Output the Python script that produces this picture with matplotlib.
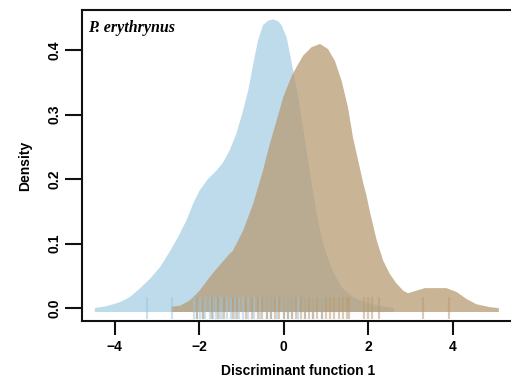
import matplotlib
matplotlib.use("Agg")
import matplotlib.pyplot as plt

# Density curve of group 1 (light blue)
blue_x = [-4.48, -4.20, -3.89, -3.65, -3.42, -3.18, -2.94, -2.71, -2.51, -2.31, -2.15, -2.00,
          -1.80, -1.60, -1.45, -1.29, -1.13, -0.97, -0.85, -0.73, -0.62, -0.50, -0.38, -0.26,
          -0.14, -0.06, 0.06, 0.17, 0.29, 0.41, 0.53, 0.65, 0.77, 0.92, 1.12, 1.36, 1.63,
          1.95, 2.30, 2.60]
blue_y = [0.001, 0.004, 0.010, 0.018, 0.031, 0.046, 0.064, 0.088, 0.111, 0.137, 0.163, 0.183,
          0.201, 0.214, 0.226, 0.245, 0.271, 0.307, 0.338, 0.379, 0.415, 0.439, 0.446, 0.448,
          0.445, 0.439, 0.420, 0.384, 0.343, 0.297, 0.245, 0.194, 0.147, 0.101, 0.062, 0.033,
          0.018, 0.009, 0.004, 0.001]

# Density curve of group 2 (tan)
tan_x = [-2.67, -2.45, -2.23, -2.00, -1.76, -1.52, -1.29, -1.21, -0.97, -0.73, -0.50, -0.34,
         -0.18, -0.02, 0.17, 0.29, 0.45, 0.65, 0.85, 1.04, 1.20, 1.36, 1.51, 1.63, 1.75, 1.87,
         1.95, 2.03, 2.19, 2.34, 2.50, 2.66, 2.82, 2.93, 3.13, 3.33, 3.61, 3.84, 4.08, 4.32,
         4.55, 4.87, 5.08]
tan_y = [0.003, 0.005, 0.013, 0.028, 0.049, 0.068, 0.085, 0.090, 0.121, 0.163, 0.214, 0.255,
         0.291, 0.328, 0.359, 0.374, 0.392, 0.405, 0.410, 0.402, 0.384, 0.353, 0.312, 0.265,
         0.230, 0.195, 0.175, 0.150, 0.106, 0.075, 0.054, 0.039, 0.028, 0.024, 0.028, 0.032,
         0.032, 0.032, 0.026, 0.015, 0.007, 0.0025, 0.001]

# Rug observations
blue_rug = [-3.24, -2.64, -2.12, -2.05, -1.98, -1.9, -1.85, -1.75, -1.68, -1.6, -1.5, -1.45,
            -1.35, -1.25, -1.15, -1.05, -0.95, -0.85, -0.7, -0.55, -0.4, -0.3, -0.15, 0.0, 0.1,
            0.2, 0.35, 0.5, 0.7, 0.9]
tan_rug = [-2.05, -1.9, -1.7, -1.55, -1.4, -1.2, -1.1, -0.9, -0.75, -0.6, -0.5, -0.4, -0.3,
           -0.2, -0.1, 0.0, 0.1, 0.2, 0.3, 0.4, 0.5, 0.6, 0.7, 0.8, 0.9, 1.0, 1.1, 1.2, 1.3,
           1.4, 1.5, 1.55, 1.9, 2.0, 2.1, 2.25, 3.3, 3.92]

xticks = [-4, -2, 0, 2, 4]
xticklabels = ["\u22124", "\u22122", "0", "2", "4"]
yticks = [0.0, 0.1, 0.2, 0.3, 0.4]
yticklabels = ["0.0", "0.1", "0.2", "0.3", "0.4"]

W, H = 511, 387
fig = plt.figure(figsize=(W / 100, H / 100), dpi=100)
ax = fig.add_axes([82 / W, (H - 321) / H, (514 - 82) / W, (321 - 10) / H])

blue_c = "#bddbea"
tan_c = (183 / 255, 155 / 255, 115 / 255)
base = -0.005

ax.fill_between(blue_x, base, blue_y, color=blue_c, lw=0, zorder=1)
ax.fill_between(tan_x, base, tan_y, color=tan_c, alpha=0.75, lw=0, zorder=2)

ax.vlines(blue_rug, -0.017, 0.017, colors="#9cc6de", alpha=0.5, lw=1.6, zorder=3)
ax.vlines(tan_rug, -0.017, 0.017, colors=tan_c, alpha=0.5, lw=1.6, zorder=3)

ax.set_xlim(-4.77, 5.45)
ax.set_ylim(-0.0197, 0.4618)

ax.set_xticks(xticks)
ax.set_xticklabels(xticklabels)
ax.set_yticks(yticks)
ax.set_yticklabels(yticklabels, rotation=90, va="center")

for s in ax.spines.values():
    s.set_linewidth(1.5)
    s.set_color("#111111")
ax.tick_params(axis="both", width=1.5, color="#111111", labelsize=10)
ax.tick_params(axis="x", length=10, pad=4)
ax.tick_params(axis="y", length=12, pad=3)
for lab in ax.get_xticklabels() + ax.get_yticklabels():
    lab.set_family("Liberation Sans")
    lab.set_fontweight("bold")

ax.set_xlabel("Discriminant function 1", fontsize=10, family="Liberation Sans",
              fontweight="bold", labelpad=7)
ax.set_ylabel("Density", fontsize=10, family="Liberation Sans", fontweight="bold", labelpad=11)

ax.text(0.014, 0.942, "P. erythrynus", transform=ax.transAxes, fontsize=11.5,
        family="Liberation Serif", style="italic", fontweight="bold", va="center", ha="left")

fig.savefig("out.png", dpi=100)
